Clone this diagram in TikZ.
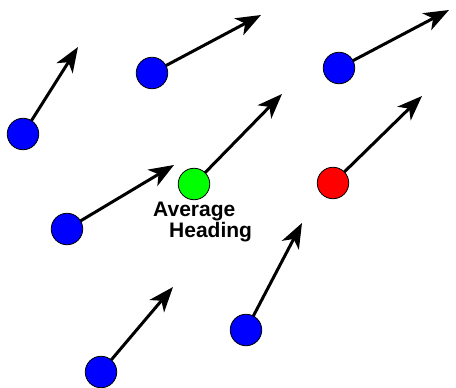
\documentclass[tikz,border=0pt]{standalone}
\usepackage{fontspec}
\setmainfont{Liberation Sans}
\usetikzlibrary{arrows.meta}
\definecolor{boidblue}{RGB}{0,0,255}
\definecolor{boidgreen}{RGB}{0,255,0}
\definecolor{boidred}{RGB}{255,0,0}
\begin{document}
\begin{tikzpicture}[x=1pt,y=-1pt,
  boid/.style={circle,draw=black,line width=0.8pt,minimum size=31.5pt,inner sep=0pt},
  heading/.style={line width=3pt,-{Stealth[length=25pt,width=19pt,inset=7pt]}}]
\useasboundingbox (0,0) rectangle (456,388);
% tips
\coordinate (t1) at (78,47);
\coordinate (t2) at (261,15);
\coordinate (t3) at (449,10);
\coordinate (t4) at (282,94);
\coordinate (t5) at (422,96);
\coordinate (t6) at (174,165);
\coordinate (t7) at (302,223);
\coordinate (t8) at (173,287);
% centres
\coordinate (c1) at (23,134);
\coordinate (c2) at (152,73);
\coordinate (c3) at (339,68);
\coordinate (c4) at (194,184);
\coordinate (c5) at (333,183);
\coordinate (c6) at (67,229);
\coordinate (c7) at (246,330);
\coordinate (c8) at (101,372);
\foreach \i in {1,...,8} \draw[heading] (c\i) -- (t\i);
\node[boid,fill=boidblue] (b1) at (c1) {};
\node[boid,fill=boidblue] (b2) at (c2) {};
\node[boid,fill=boidblue] (b3) at (c3) {};
\node[boid,fill=boidgreen] (b4) at (c4) {};
\node[boid,fill=boidred] (b5) at (c5) {};
\node[boid,fill=boidblue] (b6) at (c6) {};
\node[boid,fill=boidblue] (b7) at (c7) {};
\node[boid,fill=boidblue] (b8) at (c8) {};
\node[anchor=base west,inner sep=0pt,align=left,font=\fontsize{21}{19}\selectfont\bfseries] (avg) at (153,237) {Average\\\hspace*{16pt}Heading};
\end{tikzpicture}
\end{document}
